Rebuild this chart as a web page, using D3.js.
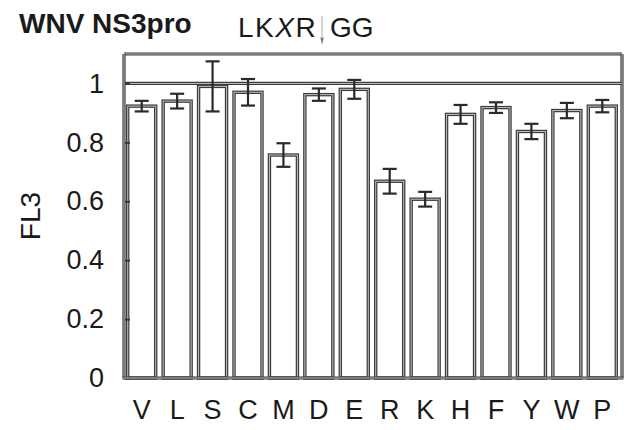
<!DOCTYPE html>
<html>
<head>
<meta charset="utf-8">
<script src="https://cdn.jsdelivr.net/npm/d3@7/dist/d3.min.js"></script>
<style>
  html, body { margin: 0; padding: 0; background: #fff; }
  svg { display: block; }
  text { font-family: "Liberation Sans", Arial, sans-serif; fill: #1a1a1a; }
</style>
</head>
<body>
<svg id="chart" width="627" height="430"></svg>
<script>
// Residues at the X position of the LKXR|GG cleavage site
const residues = ["V", "L", "S", "C", "M", "D", "E", "R", "K", "H", "F", "Y", "W", "P"];
// Mean FL3 signal for each substitution
const fl3Mean = [0.923, 0.940, 0.990, 0.970, 0.757, 0.962, 0.980, 0.668, 0.607, 0.895, 0.918, 0.837, 0.908, 0.923];
// Error (half-height of each whisker)
const fl3Err = [0.018, 0.025, 0.085, 0.045, 0.040, 0.021, 0.032, 0.042, 0.025, 0.032, 0.018, 0.026, 0.026, 0.021];
// Y axis ticks and their labels
const yTicks = [0, 0.2, 0.4, 0.6, 0.8, 1];
const yTickLabels = ["0", "0.2", "0.4", "0.6", "0.8", "1"];

const svg = d3.select("#chart");
const plot = { left: 124, right: 622, top: 54, bottom: 378 };

const x = d3.scaleBand()
  .domain(residues)
  .range([plot.left, 620])
  .paddingInner(0.21)
  .paddingOuter(0.105);

const y = d3.scaleLinear()
  .domain([0, 1.1])
  .range([plot.bottom, plot.top]);

const dark = "#3a3a3a";
const light = "#c4c4c4";

// Helper: a line drawn as dark stroke with a faint light core
function doubleLine(g, x1, y1, x2, y2, w) {
  g.append("line").attr("x1", x1).attr("y1", y1).attr("x2", x2).attr("y2", y2)
    .attr("stroke", dark).attr("stroke-width", w);
  g.append("line").attr("x1", x1).attr("y1", y1).attr("x2", x2).attr("y2", y2)
    .attr("stroke", light).attr("stroke-width", w * 0.3);
}

// Bars
const bars = svg.append("g");
bars.selectAll("rect.outer")
  .data(residues)
  .join("rect")
  .attr("class", "outer")
  .attr("x", d => x(d))
  .attr("y", (d, i) => y(fl3Mean[i]))
  .attr("width", x.bandwidth())
  .attr("height", (d, i) => y(0) - y(fl3Mean[i]))
  .attr("fill", "#fff")
  .attr("stroke", dark)
  .attr("stroke-width", 3.4);
bars.selectAll("rect.inner")
  .data(residues)
  .join("rect")
  .attr("class", "inner")
  .attr("x", d => x(d))
  .attr("y", (d, i) => y(fl3Mean[i]))
  .attr("width", x.bandwidth())
  .attr("height", (d, i) => y(0) - y(fl3Mean[i]))
  .attr("fill", "none")
  .attr("stroke", light)
  .attr("stroke-width", 1);

// Frame: top border, right border and the reference line at 1
const frame = svg.append("g");
doubleLine(frame, plot.left, plot.top, plot.right, plot.top, 3.2);
doubleLine(frame, plot.right, plot.top, plot.right, plot.bottom, 3.2);
doubleLine(frame, plot.left, y(1), plot.right, y(1), 3.2);

// Error bars
const err = svg.append("g").attr("stroke", "#2a2a2a").attr("stroke-width", 2.2);
const cap = 7;
residues.forEach((r, i) => {
  const cx = x(r) + x.bandwidth() / 2;
  const hi = y(fl3Mean[i] + fl3Err[i]);
  const lo = y(fl3Mean[i] - fl3Err[i]);
  err.append("line").attr("x1", cx).attr("x2", cx).attr("y1", hi).attr("y2", lo);
  err.append("line").attr("x1", cx - cap).attr("x2", cx + cap).attr("y1", hi).attr("y2", hi);
  err.append("line").attr("x1", cx - cap).attr("x2", cx + cap).attr("y1", lo).attr("y2", lo);
});

// Y axis (ticks point into the plot)
const yAxis = d3.axisLeft(y)
  .tickValues(yTicks)
  .tickFormat((d, i) => yTickLabels[i])
  .tickSizeInner(-6)
  .tickSizeOuter(0)
  .tickPadding(20);
const yg = svg.append("g").attr("transform", `translate(${plot.left},0)`).call(yAxis);
yg.select(".domain").remove();
yg.selectAll(".tick line").attr("stroke", dark).attr("stroke-width", 2);
yg.selectAll(".tick text")
  .attr("font-size", 27)
  .attr("font-family", "Liberation Sans, Arial, sans-serif")
  .attr("fill", "#1a1a1a");
const axes = svg.append("g");
doubleLine(axes, plot.left, plot.top, plot.left, plot.bottom, 3.2);

// X axis
const xAxis = d3.axisBottom(x).tickSize(0).tickPadding(22);
const xg = svg.append("g").attr("transform", `translate(0,${plot.bottom})`).call(xAxis);
xg.select(".domain").remove();
xg.selectAll(".tick text")
  .attr("font-size", 27)
  .attr("font-family", "Liberation Sans, Arial, sans-serif")
  .attr("fill", "#1a1a1a");
doubleLine(axes, plot.left - 1.5, plot.bottom, plot.right + 1.5, plot.bottom, 3.2);

// Y axis title
svg.append("text")
  .attr("transform", `translate(40,${(plot.top + plot.bottom) / 2}) rotate(-90)`)
  .attr("text-anchor", "middle")
  .attr("font-size", 28)
  .text("FL3");

// Titles
svg.append("text")
  .attr("x", 19).attr("y", 33)
  .attr("font-size", 28)
  .attr("font-weight", "bold")
  .text("WNV NS3pro");

// Cleavage site motif, with the scissile bond marked by a narrow grey arrow
const site = svg.append("text")
  .attr("x", 238).attr("y", 37)
  .attr("font-size", 28);
site.append("tspan").attr("letter-spacing", 1.5).text("LK");
site.append("tspan").attr("letter-spacing", 1.5).attr("font-style", "italic").text("X");
site.append("tspan").text("R");
site.append("tspan").attr("x", 330).text("GG");

svg.append("text")
  .attr("transform", "translate(322,43) scale(0.5,2.0)")
  .attr("text-anchor", "middle")
  .attr("font-family", "DejaVu Sans, sans-serif")
  .attr("font-size", 24)
  .attr("fill", "#5a5a5a")
  .style("fill", "#5a5a5a")
  .text("↓");
</script>
</body>
</html>
